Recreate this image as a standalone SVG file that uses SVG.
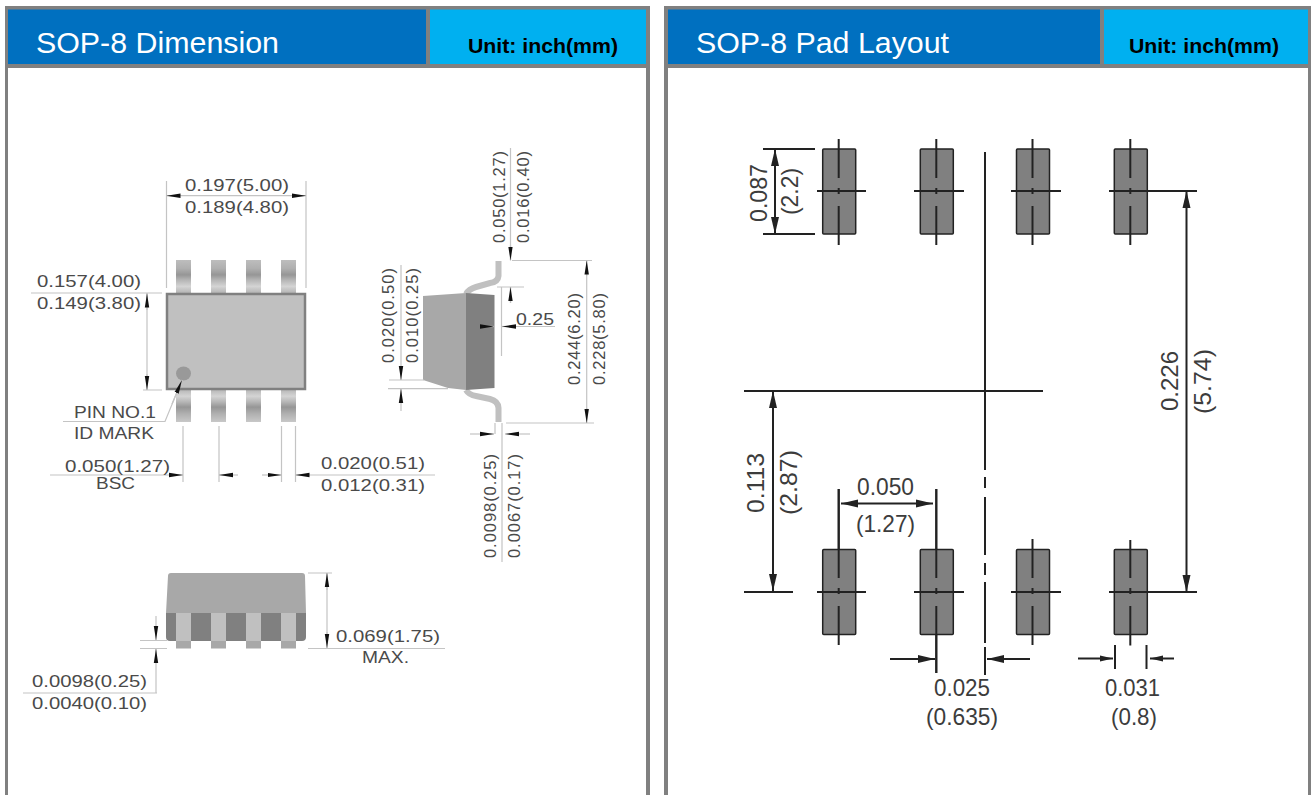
<svg xmlns="http://www.w3.org/2000/svg" width="1311" height="795" viewBox="0 0 1311 795">
<style>
text{font-family:"Liberation Sans",Arial,sans-serif}
.frame{fill:#808080}.body{fill:#fff}
.hd{fill:#0070c0}.un{fill:#00b0f0}
.t{fill:#fff;font-size:30px}
.u{fill:#000;font-size:20px;font-weight:bold}
.l{fill:#4a4a4a;font-size:16.5px}
.r{fill:#3c3c3c;font-size:24px}
.d{stroke:#c4c4c4;stroke-width:1.2;fill:none}
.k{stroke:#222;stroke-width:2;fill:none}
.pad{fill:#808080;stroke:#222;stroke-width:1.5}
.lead{fill:none;stroke:#c0c0c0;stroke-width:6}
</style>
<defs>
<marker id="a" markerUnits="userSpaceOnUse" markerWidth="15" markerHeight="6" refX="14" refY="3" orient="auto-start-reverse"><path d="M0 .8L14 3L0 5.200z" fill="#111"/></marker>
<marker id="b" markerUnits="userSpaceOnUse" markerWidth="18" markerHeight="10" refX="17" refY="5" orient="auto-start-reverse"><path d="M0 1L17 5L0 9z" fill="#222"/></marker>
<marker id="c" markerUnits="userSpaceOnUse" markerWidth="14" markerHeight="8" refX="13" refY="4" orient="auto-start-reverse"><path d="M0 1L13 4L0 7z" fill="#222"/></marker>
<linearGradient id="pt" x1="0" y1="0" x2="0" y2="1"><stop offset="0" stop-color="#bdbdbd"/><stop offset=".25" stop-color="#b0b0b0"/><stop offset=".45" stop-color="#969696"/><stop offset=".6" stop-color="#b4b4b4"/><stop offset=".8" stop-color="#d4d4d4"/><stop offset="1" stop-color="#b4b4b4"/></linearGradient>
<linearGradient id="pb" x1="0" y1="0" x2="0" y2="1"><stop offset="0" stop-color="#b4b4b4"/><stop offset=".22" stop-color="#d4d4d4"/><stop offset=".4" stop-color="#b4b4b4"/><stop offset=".55" stop-color="#969696"/><stop offset=".75" stop-color="#b0b0b0"/><stop offset="1" stop-color="#c8c8c8"/></linearGradient>
</defs>
<g id="panel-left">
<rect class="frame" x="5" y="6" width="645" height="789"/>
<rect class="body" x="8" y="68" width="638" height="727"/>
<rect class="hd" x="8" y="9.500" width="418" height="54.500"/>
<rect class="un" x="430" y="9.500" width="216" height="54.500"/>
<text class="t" x="36" y="53" textLength="243" lengthAdjust="spacingAndGlyphs">SOP-8 Dimension</text>
<text class="u" x="468" y="53" textLength="150" lengthAdjust="spacingAndGlyphs">Unit: inch(mm)</text>
</g>
<g id="panel-right">
<rect class="frame" x="664" y="6" width="647" height="789"/>
<rect class="body" x="668" y="68" width="640" height="727"/>
<rect class="hd" x="668" y="9.500" width="432" height="54.500"/>
<rect class="un" x="1104" y="9.500" width="204" height="54.500"/>
<text class="t" x="696" y="53" textLength="253" lengthAdjust="spacingAndGlyphs">SOP-8 Pad Layout</text>
<text class="u" x="1129" y="53" textLength="150" lengthAdjust="spacingAndGlyphs">Unit: inch(mm)</text>
</g>
<g id="top-view">
<g fill="url(#pt)"><rect x="176" y="260" width="15" height="33"/><rect x="211" y="260" width="15" height="33"/><rect x="246" y="260" width="15" height="33"/><rect x="281" y="260" width="15" height="33"/></g>
<g fill="url(#pb)"><rect x="176" y="389" width="15" height="33"/><rect x="211" y="389" width="15" height="33"/><rect x="246" y="389" width="15" height="33"/><rect x="281" y="389" width="15" height="33"/></g>
<rect x="167" y="294" width="138" height="95" fill="#c0c0c0" stroke="#808080" stroke-width="2.500"/>
<ellipse cx="183.500" cy="373.500" rx="7.500" ry="7" fill="#999"/>
</g>
<g id="side-view">
<path class="lead" d="M498.500 261V276Q498 282 490 283L476 287Q469 289 466 294"/>
<path class="lead" d="M466 390Q469 395 476 396L490 399Q498 401 498.500 408V422"/>
<path d="M423 296L466 293V390L448 388L423 380z" fill="#a8a8a8"/>
<path d="M466 293L494.500 295V388L466 390z" fill="#808080"/>
</g>
<g id="front-view">
<path d="M168 576Q168 573 171 573H302Q305 573 305 576L306 613H166z" fill="#a8a8a8"/>
<path d="M166 613H306V637Q306 641 302 641H170Q166 641 166 637z" fill="#808080"/>
<g fill="#c0c0c0"><rect x="176" y="613" width="15" height="28"/><rect x="211" y="613" width="15" height="28"/><rect x="246" y="613" width="15" height="28"/><rect x="281" y="613" width="15" height="28"/></g>
<g fill="#a8a8a8"><rect x="176" y="641" width="15" height="7.500"/><rect x="211" y="641" width="15" height="7.500"/><rect x="246" y="641" width="15" height="7.500"/><rect x="281" y="641" width="15" height="7.500"/></g>
</g>
<g id="connectors">
<g id="dims-left">
<path class="d" d="M166.500 181V288M306 181V288M31 293H162M143 390H162M63 421.500H165L182 380M183 426V482M219 426V482M281.500 426V482M295.500 426V482M50 475H170M310 475H435M512 260.500H592M497 287H524M506 423H594M495 423V434M502 423V562M389 380H424M388 388.700H448M501.500 287V356M516 326.500H555M308 573H332M308 648.500H445M140 640.500H167M140 648.500H167M23 693H157"/>
<path class="d" d="M166.500 195.700H306M147 293V390M510.500 148V260M510.500 287V303M586.700 260.500V423M401 265V380M401 389V411M327 573V648M156 616V640M156 649V693"/>
<path class="d" d="M166.500 195.700H180" marker-start="url(#a)"/><path class="d" d="M292 195.700H306" marker-end="url(#a)"/>
<path class="d" d="M147 293.500V310" marker-start="url(#a)"/><path class="d" d="M147 374V390" marker-end="url(#a)"/>
<path class="d" d="M170 475H183" marker-end="url(#a)"/><path class="d" d="M219 475H238" marker-start="url(#a)"/><path class="d" d="M262 475H281.500" marker-end="url(#a)"/><path class="d" d="M295.500 475H310" marker-start="url(#a)"/>
<path class="d" d="M182 380L172 404" marker-start="url(#a)"/>
<path class="d" d="M510.500 245V260.500" marker-end="url(#a)"/><path class="d" d="M510.500 287V303" marker-start="url(#a)"/>
<path class="d" d="M586.700 260.500V276" marker-start="url(#a)"/><path class="d" d="M586.700 408V423" marker-end="url(#a)"/>
<path class="d" d="M480 326.500H494" marker-end="url(#a)"/><path class="d" d="M502 326.500H516" marker-start="url(#a)"/>
<path class="d" d="M401 366V380" marker-end="url(#a)"/><path class="d" d="M401 389V403" marker-start="url(#a)"/>
<path class="d" d="M470 434H494" marker-end="url(#a)"/><path class="d" d="M505 434H530" marker-start="url(#a)"/>
<path class="d" d="M327 573V590" marker-start="url(#a)"/><path class="d" d="M327 632V648" marker-end="url(#a)"/>
<path class="d" d="M156 628V640" marker-end="url(#a)"/><path class="d" d="M156 649V662" marker-start="url(#a)"/>
</g>
<g id="dims-right">
<path class="k" d="M763 149H815M763 234H815M744 391H1043M744 592H793M1147 191H1197M1147 592H1197M838.700 489V549M936.300 489V549M985 152V470M985 477V488M985 497V555M985 563V575M985 582V643M985 647V675"/>
<path class="k" d="M775 149V234" marker-start="url(#b)" marker-end="url(#b)"/>
<path class="k" d="M773 391V591" marker-start="url(#b)" marker-end="url(#b)"/>
<path class="k" d="M1186.500 191V592" marker-start="url(#b)" marker-end="url(#b)"/>
<path class="k" d="M841 503.500H933" marker-start="url(#b)" marker-end="url(#b)"/>
<path class="k" d="M890 659H935" marker-end="url(#b)"/><path class="k" d="M987 659H1030" marker-start="url(#b)"/>
<path class="k" d="M1078 658.500H1113" marker-end="url(#c)"/><path class="k" d="M1150 658.500H1174" marker-start="url(#c)"/>
<path class="k" d="M936.300 635V673M1115 645V669M1146.500 645V669"/>
</g>
</g>
<g id="pads">
<g id="pad-t1"><rect class="pad" x="822.700" y="149" width="33" height="85" rx="1"/><path class="k" d="M838.700 139V178M838.700 188V194M838.700 206V245M817 191H866"/></g>
<g id="pad-t2"><rect class="pad" x="920.300" y="149" width="33" height="85" rx="1"/><path class="k" d="M936.300 139V178M936.300 188V194M936.300 206V245M914 191H964"/></g>
<g id="pad-t3"><rect class="pad" x="1016.500" y="149" width="33" height="85" rx="1"/><path class="k" d="M1032.500 139V178M1032.500 188V194M1032.500 206V245M1011 191H1061"/></g>
<g id="pad-t4"><rect class="pad" x="1114.300" y="149" width="33" height="85" rx="1"/><path class="k" d="M1130.300 139V178M1130.300 188V194M1130.300 206V245M1109 191H1159"/></g>
<g id="pad-b1"><rect class="pad" x="822.700" y="549.500" width="33" height="85" rx="1"/><path class="k" d="M838.700 489V578M838.700 588V594M838.700 606V645M817 592H866"/></g>
<g id="pad-b2"><rect class="pad" x="920.300" y="549.500" width="33" height="85" rx="1"/><path class="k" d="M936.300 489V578M936.300 588V594M936.300 606V673M914 592H964"/></g>
<g id="pad-b3"><rect class="pad" x="1016.500" y="549.500" width="33" height="85" rx="1"/><path class="k" d="M1032.500 539V578M1032.500 588V594M1032.500 606V645M1011 592H1061"/></g>
<g id="pad-b4"><rect class="pad" x="1114.300" y="549.500" width="33" height="85" rx="1"/><path class="k" d="M1130.300 540V578M1130.300 588V594M1130.300 606V645.500M1109 592H1159"/></g>
</g>
<g id="labels-left">
<text class="l" x="185" y="190.500" textLength="104" lengthAdjust="spacingAndGlyphs">0.197(5.00)</text>
<text class="l" x="185" y="212.500" textLength="104" lengthAdjust="spacingAndGlyphs">0.189(4.80)</text>
<text class="l" x="37" y="286.500" textLength="104" lengthAdjust="spacingAndGlyphs">0.157(4.00)</text>
<text class="l" x="37" y="309" textLength="104" lengthAdjust="spacingAndGlyphs">0.149(3.80)</text>
<text class="l" x="74" y="417.500" textLength="82" lengthAdjust="spacingAndGlyphs">PIN NO.1</text>
<text class="l" x="74" y="439" textLength="80" lengthAdjust="spacingAndGlyphs">ID MARK</text>
<text class="l" x="65" y="471.500" textLength="105" lengthAdjust="spacingAndGlyphs">0.050(1.27)</text>
<text class="l" x="96" y="489" textLength="39" lengthAdjust="spacingAndGlyphs">BSC</text>
<text class="l" x="321" y="469" textLength="104" lengthAdjust="spacingAndGlyphs">0.020(0.51)</text>
<text class="l" x="321" y="491" textLength="104" lengthAdjust="spacingAndGlyphs">0.012(0.31)</text>
<text class="l" x="516" y="325" textLength="38" lengthAdjust="spacingAndGlyphs">0.25</text>
<text class="l" transform="translate(505 243) rotate(-90)" textLength="92">0.050(1.27)</text>
<text class="l" transform="translate(529 243) rotate(-90)" textLength="92">0.016(0.40)</text>
<text class="l" transform="translate(394 363) rotate(-90)" textLength="95">0.020(0.50)</text>
<text class="l" transform="translate(418 363) rotate(-90)" textLength="95">0.010(0.25)</text>
<text class="l" transform="translate(580 385) rotate(-90)" textLength="92">0.244(6.20)</text>
<text class="l" transform="translate(605 385) rotate(-90)" textLength="92">0.228(5.80)</text>
<text class="l" transform="translate(496 558) rotate(-90)" textLength="104">0.0098(0.25)</text>
<text class="l" transform="translate(520 558) rotate(-90)" textLength="104">0.0067(0.17)</text>
<text class="l" x="336" y="642" textLength="104" lengthAdjust="spacingAndGlyphs">0.069(1.75)</text>
<text class="l" x="362" y="663" textLength="47" lengthAdjust="spacingAndGlyphs">MAX.</text>
<text class="l" x="32" y="686.500" textLength="115" lengthAdjust="spacingAndGlyphs">0.0098(0.25)</text>
<text class="l" x="32" y="709" textLength="115" lengthAdjust="spacingAndGlyphs">0.0040(0.10)</text>
</g>
<g id="labels-right">
<text class="r" transform="translate(767 222) rotate(-90)" textLength="58" lengthAdjust="spacingAndGlyphs">0.087</text>
<text class="r" transform="translate(798 215) rotate(-90)" textLength="47" lengthAdjust="spacingAndGlyphs">(2.2)</text>
<text class="r" transform="translate(764 513) rotate(-90)" textLength="60" lengthAdjust="spacingAndGlyphs">0.113</text>
<text class="r" transform="translate(797 515) rotate(-90)" textLength="65" lengthAdjust="spacingAndGlyphs">(2.87)</text>
<text class="r" transform="translate(1178 411) rotate(-90)" textLength="60" lengthAdjust="spacingAndGlyphs">0.226</text>
<text class="r" transform="translate(1211 414) rotate(-90)" textLength="65" lengthAdjust="spacingAndGlyphs">(5.74)</text>
<text class="r" x="857" y="495" textLength="57" lengthAdjust="spacingAndGlyphs">0.050</text>
<text class="r" x="856" y="531.500" textLength="59" lengthAdjust="spacingAndGlyphs">(1.27)</text>
<text class="r" x="934" y="696" textLength="56" lengthAdjust="spacingAndGlyphs">0.025</text>
<text class="r" x="926" y="725" textLength="72" lengthAdjust="spacingAndGlyphs">(0.635)</text>
<text class="r" x="1105" y="696" textLength="55" lengthAdjust="spacingAndGlyphs">0.031</text>
<text class="r" x="1111" y="725" textLength="46" lengthAdjust="spacingAndGlyphs">(0.8)</text>
</g>
</svg>
